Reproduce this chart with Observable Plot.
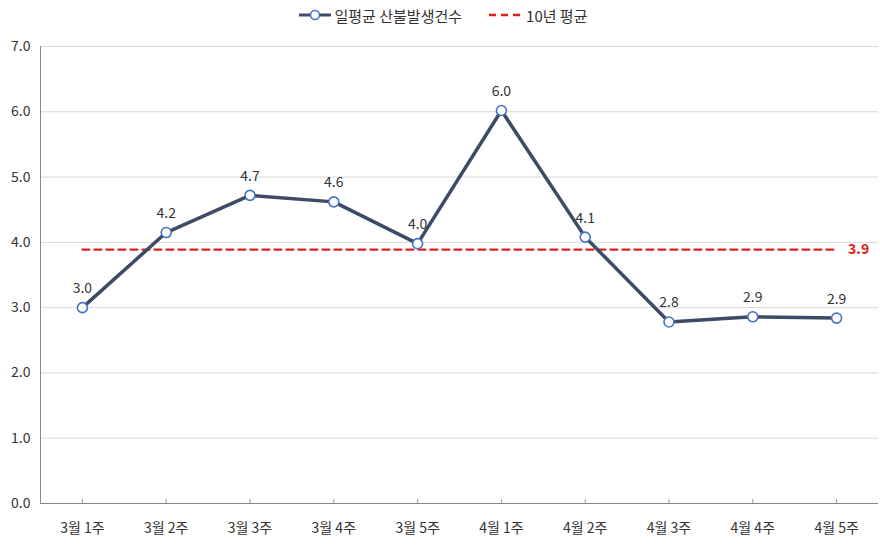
<!DOCTYPE html>
<html><head><meta charset="utf-8">
<script src="https://cdn.jsdelivr.net/npm/d3@7"></script>
<script src="https://cdn.jsdelivr.net/npm/@observablehq/plot@0.6"></script>
<style>
body{margin:0;background:#fff;font-family:"Noto Sans CJK KR","Noto Sans",sans-serif;}
#legend{height:30px;display:flex;align-items:center;justify-content:center;gap:26px;font-size:15px;color:#333;padding-left:6px;}
#legend span{display:inline-flex;align-items:center;gap:4px;}
</style></head>
<body>
<div id="legend">
<span><svg width="32" height="12"><line x1="0" y1="6" x2="32" y2="6" stroke="#3d4b66" stroke-width="3"/><circle cx="16" cy="6" r="4.5" fill="#fff" stroke="#4472c4" stroke-width="1.6"/></svg>일평균 산불발생건수</span>
<span><svg width="34" height="12"><line x1="1" y1="6" x2="34" y2="6" stroke="#e02020" stroke-width="2.5" stroke-dasharray="7,5"/></svg>10년 평균</span>
</div>
<div id="chart"></div>
<script>
const weeks = ["3월 1주","3월 2주","3월 3주","3월 4주","3월 5주","4월 1주","4월 2주","4월 3주","4월 4주","4월 5주"];
const fires = [3.0, 4.15, 4.72, 4.62, 3.98, 6.02, 4.08, 2.78, 2.86, 2.84];
const fireLabels = ["3.0","4.2","4.7","4.6","4.0","6.0","4.1","2.8","2.9","2.9"];
const avg10 = 3.89;
const avgLabel = "3.9";
const yTicks = [0,1,2,3,4,5,6,7];

const data = weeks.map((w,i)=>({week:w, value:fires[i], label:fireLabels[i]}));
const avgData = weeks.map(w=>({week:w, value:avg10}));

const plot = Plot.plot({
  width: 880, height: 520,
  marginTop: 16, marginBottom: 47, marginLeft: 40, marginRight: 2,
  style: {fontFamily: '"Noto Sans CJK KR","Noto Sans",sans-serif', fontSize: "13px", color: "#333"},
  x: {type: "point", domain: weeks, padding: 0.5, round: false, label: null},
  y: {type: "linear", domain: [0,7], label: null},
  marks: [
    Plot.gridY(yTicks, {stroke: "#d9d9d9", strokeOpacity: 1}),
    Plot.axisY(yTicks, {tickFormat: d=>d.toFixed(1), tickSize: 0, tickPadding: 10, fontSize: 14}),
    Plot.ruleY([0], {stroke: "#888"}),
    Plot.axisX({tickSize: 0, tickPadding: 20, fontSize: 14}),
    Plot.ruleX(weeks, {x: d=>d, y1: 0, y2: 0.06, stroke:"#999"}),
    Plot.line(avgData, {x:"week", y:"value", stroke:"#e02020", strokeWidth: 2.2, strokeDasharray: "7,5"}),
    Plot.text([avgLabel], {x: ()=>weeks[9], y: ()=>avg10, text: d=>d, dx: 22, fill:"#e02020", fontWeight:"bold", fontSize: 14}),
    Plot.line(data, {x:"week", y:"value", stroke:"#3d4b66", strokeWidth: 3.5}),
    Plot.dot(data, {x:"week", y:"value", r: 5, fill:"#fff", stroke:"#4472c4", strokeWidth: 1.6}),
    Plot.text(data, {x:"week", y:"value", text:"label", dy: -19, fontSize: 14, fill:"#333"})
  ]
});
document.getElementById("chart").appendChild(plot);
const svg = d3.select(plot);
svg.append("line").attr("x1",40.5).attr("x2",40.5).attr("y1",16).attr("y2",473).attr("stroke","#888");
</script>
</body></html>
